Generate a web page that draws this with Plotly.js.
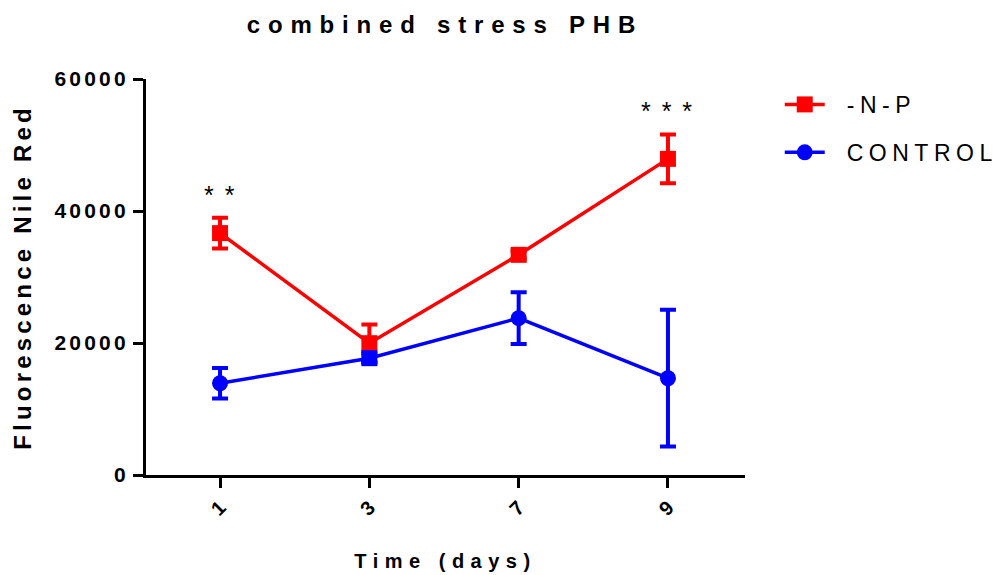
<!DOCTYPE html>
<html><head><meta charset="utf-8">
<script src="https://cdn.plot.ly/plotly-3.0.1.min.js"></script>
<style>
html,body{margin:0;padding:0;background:#fff;}
#chart{width:1000px;height:575px;}
/* wide tracking on every label; no #chart prefix so Plotly's hidden text tester measures it too */
.gtitle{letter-spacing:7.8px;}
.ytitle{letter-spacing:4.2px;}
.xtitle{letter-spacing:6.5px;}
.ytick text{letter-spacing:3.2px;}
.legendtext{letter-spacing:5.5px; transform:translateX(17px);}
.legend .scrollbox{clip-path:none !important;}
.annotation-text{letter-spacing:2px;}
</style></head>
<body><div id="chart"></div>
<script>
// Nile Red fluorescence under combined N/P stress vs. control (mean ± SEM)
const days = ['1', '3', '7', '9'];
const npMean = [36650, 19970, 33360, 47900];
const npSem = [2320, 2850, 600, 3700];
const ctrlMean = [13900, 17700, 23760, 14660];
const ctrlSem = [2320, 700, 3920, 10360];
const ctrlSymbols = ['circle', 'square', 'circle', 'circle'];
const sigLabels = ['* *', '', '', '* * *'];
const yTicks = [0, 20000, 40000, 60000];

const FONT = 'Liberation Sans, Arial, sans-serif';
const RED = '#ff0000';
const BLUE = '#0000ff';

const traces = [
  {
    name: '-N-P', legendgroup: 'np', x: days, y: npMean, type: 'scatter', mode: 'lines+markers',
    line: {color: RED, width: 3.5},
    marker: {color: RED, symbol: 'square', size: 16},
    error_y: {type: 'data', array: npSem, visible: true, color: RED, thickness: 4, width: 8}
  },
  {
    name: 'CONTROL', legendgroup: 'ctrl', x: days, y: ctrlMean, type: 'scatter', mode: 'lines+markers',
    line: {color: BLUE, width: 3.5},
    marker: {color: BLUE, symbol: ctrlSymbols, size: 16},
    error_y: {type: 'data', array: ctrlSem, visible: true, color: BLUE, thickness: 4, width: 8}
  }
];

// significance stars above the -N-P error bars (x given as category index)
const annotations = [];
days.forEach((d, i) => {
  if (!sigLabels[i]) return;
  annotations.push({
    x: i, y: npMean[i] + npSem[i], xref: 'x', yref: 'y',
    text: sigLabels[i], showarrow: false, yanchor: 'bottom', yshift: 7,
    font: {family: FONT, size: 25, color: '#000'}
  });
});

const layout = {
  width: 1000, height: 575,
  paper_bgcolor: '#fff', plot_bgcolor: '#fff',
  margin: {l: 146, r: 255, t: 79, b: 100, autoexpand: false},
  font: {family: FONT, color: '#000'},
  title: {
    text: 'combined stress PHB', x: 0.445, xanchor: 'center', y: 0.958, yanchor: 'middle',
    font: {family: FONT, size: 24, weight: 'bold', color: '#000'}
  },
  xaxis: {
    type: 'category', range: [-0.496, 3.516],
    showline: true, linewidth: 3, linecolor: '#000', mirror: false,
    ticks: 'outside', ticklen: 10, tickwidth: 3, tickcolor: '#000',
    tickangle: -45, tickfont: {family: FONT, size: 20, weight: 'bold', color: '#000'},
    showgrid: false, zeroline: false,
    title: {text: 'Time (days)', standoff: 36, font: {family: FONT, size: 20, weight: 'bold', color: '#000'}}
  },
  yaxis: {
    range: [0, 60000], tickvals: yTicks, ticktext: yTicks.map(String),
    showline: true, linewidth: 3, linecolor: '#000',
    ticks: 'outside', ticklen: 10, tickwidth: 3, tickcolor: '#000',
    tickfont: {family: FONT, size: 21, weight: 'bold', color: '#000'},
    showgrid: false, zeroline: false,
    title: {text: 'Fluorescence Nile Red', standoff: 16, font: {family: FONT, size: 24, weight: 'bold', color: '#000'}}
  },
  showlegend: true,
  legend: {
    x: 1.058, y: 0.99, xanchor: 'left', yanchor: 'top',
    traceorder: 'grouped', tracegroupgap: 15, itemwidth: 40,
    font: {family: FONT, size: 23, color: '#000'},
    bgcolor: 'rgba(0,0,0,0)'
  },
  annotations: annotations
};

Plotly.newPlot('chart', traces, layout, {displayModeBar: false, staticPlot: true});
</script>
</body></html>
